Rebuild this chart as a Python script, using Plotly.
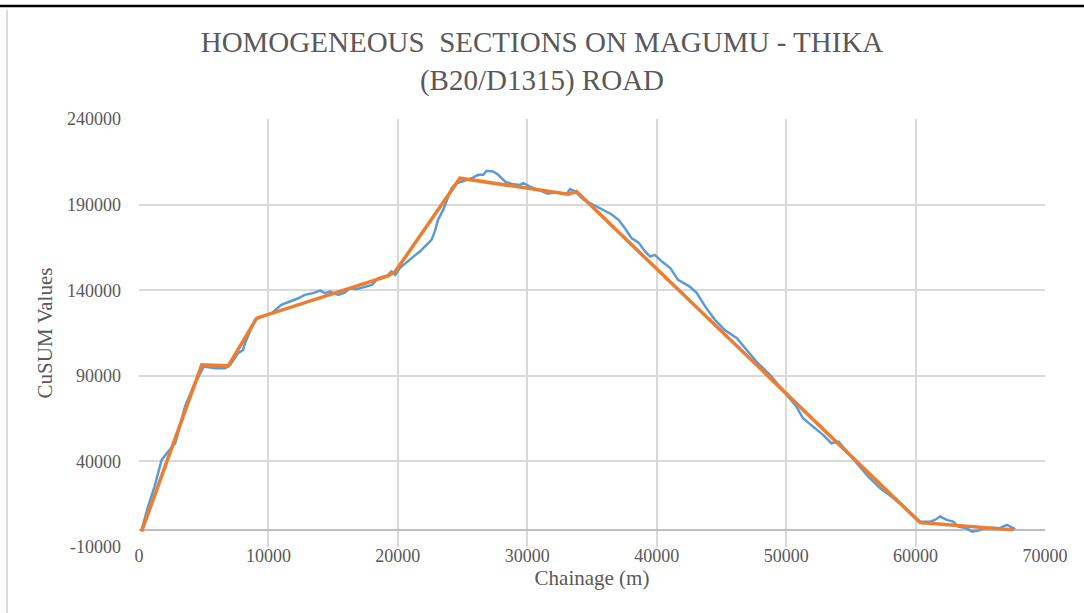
import plotly.graph_objects as go

# CuSUM values (blue)
chainage = [200, 700, 1200, 1750, 2250, 2800, 3150, 3550, 4200, 4850, 5000, 5900, 6650, 7050,
            7650, 8050, 8190, 8950, 9480, 10250, 10400, 11000, 11650, 12300, 12800, 13450,
            14000, 14350, 14750, 15400, 15900, 16300, 16800, 17450, 18000, 18500, 19150,
            19500, 19800, 20150, 20700, 21200, 21700, 22250, 22600, 22850, 23100, 23500,
            23900, 24150, 24550, 25200, 25700, 26200, 26600, 26850, 27350, 27750, 28300,
            28800, 29450, 29700, 30200, 31000, 31600, 32150, 33050, 33300, 33700, 34350,
            35100, 35850, 36500, 37050, 37550, 38050, 38600, 39100, 39500, 39850, 40400,
            41050, 41650, 42550, 43100, 43750, 44500, 45250, 46200, 46950, 47700, 48750,
            49500, 50300, 50800, 51300, 52100, 52850, 53500, 54050, 54700, 55450, 56350,
            57250, 58300, 59200, 59950, 60350, 61100, 61500, 61900, 62400, 62900, 63300,
            63950, 64350, 64850, 65350, 66000, 66500, 67050, 67400, 67700]
cusum = [0, 13600, 25300, 40900, 45700, 50600, 60300, 72000, 83700, 92500, 95400, 94400, 94400,
         96400, 103200, 105100, 109000, 122700, 124600, 126600, 127500, 131400, 133400,
         135300, 137300, 138300, 139800, 138300, 139200, 137300, 138600, 141200, 140600,
         141800, 143100, 147000, 148400, 150900, 148900, 152900, 156700, 159600, 162600,
         166500, 169400, 174200, 181100, 186900, 194700, 199600, 202500, 204400, 205400,
         207400, 207400, 209700, 209300, 207400, 203400, 202100, 201500, 202500, 200500,
         198200, 196300, 197200, 196100, 199000, 197600, 192800, 189800, 186900, 184400,
         181100, 176200, 170400, 167800, 162600, 159600, 160600, 156700, 152900, 146000,
         142100, 138300, 130400, 122700, 116800, 112000, 105100, 98300, 90500, 83700,
         76900, 72000, 65200, 60300, 55500, 50600, 51600, 45700, 39000, 31100, 24400,
         18500, 12700, 7800, 4800, 4800, 5800, 7800, 5800, 4800, 1900, 1000, -1000, -400,
         1000, 1300, 1000, 2900, 1600, 400]

# Homogeneous section fit (orange)
sec_x = [200, 4850, 6900, 9100, 19250, 19800, 24800, 33150, 33800, 60350, 67550]
sec_y = [-1000, 96400, 95800, 123700, 148400, 150900, 205400, 196100, 197600, 4300, 0]

title_text = "HOMOGENEOUS  SECTIONS ON MAGUMU - THIKA<br>(B20/D1315) ROAD"
x_title = "Chainage (m)"
y_title = "CuSUM Values"
x_ticks = [0, 10000, 20000, 30000, 40000, 50000, 60000, 70000]
y_ticks = [-10000, 40000, 90000, 140000, 190000, 240000]

serif = "Liberation Serif, Times New Roman, serif"
grid = "#D9D9D9"
txt = "#595959"

fig = go.Figure()
fig.add_trace(go.Scatter(x=chainage, y=cusum, mode="lines",
                         line=dict(color="#5B9BD5", width=2.5), showlegend=False))
fig.add_trace(go.Scatter(x=sec_x, y=sec_y, mode="lines",
                         line=dict(color="#ED7D31", width=3.5), showlegend=False))

L, R, T, B = 139, 39, 119, 66
W, H = 1084, 613
pw, ph = W - L - R, H - T - B

def px(xp):
    return (xp - L) / pw

def py(yp):
    return (H - B - yp) / ph

fig.update_layout(
    width=W, height=H,
    margin=dict(l=L, r=R, t=T, b=B),
    paper_bgcolor="white", plot_bgcolor="white",
    font=dict(family=serif, color=txt, size=18),
    title=dict(text=title_text, x=0.5, xanchor="center", xref="container",
               y=1 - 52 / H, yref="container", yanchor="middle",
               font=dict(family=serif, size=29, color="#595959")),
    xaxis=dict(range=[0, 70000], tickvals=x_ticks, ticktext=[str(v) for v in x_ticks],
               showgrid=True, gridcolor=grid, gridwidth=1.5, zeroline=False,
               showline=False, ticks="", tickfont=dict(size=18, color=txt),
               title=dict(text=x_title, font=dict(size=21, color=txt), standoff=4)),
    yaxis=dict(range=[-10000, 240000], tickvals=y_ticks, ticktext=[str(v) for v in y_ticks],
               showgrid=True, gridcolor=grid, gridwidth=1.5, zeroline=True,
               zerolinecolor="#BFBFBF", zerolinewidth=1.5,
               showline=False, ticks="", tickfont=dict(size=18, color=txt),
               ticklabelstandoff=17,
               title=dict(text=y_title, font=dict(size=21, color=txt), standoff=8)),
)
try:
    fig.update_xaxes(ticklabelstandoff=-4)
except ValueError:
    pass

# page frame
fig.add_shape(type="line", xref="paper", yref="paper", x0=px(0), x1=px(W), y0=py(6), y1=py(6),
              line=dict(color="black", width=2.5))
fig.add_shape(type="line", xref="paper", yref="paper", x0=px(7), x1=px(7), y0=py(10), y1=py(H),
              line=dict(color="#D0D0D0", width=1.5))

fig.write_html("out.html", config={"displayModeBar": False},
               post_script="document.body.style.margin='0';")
